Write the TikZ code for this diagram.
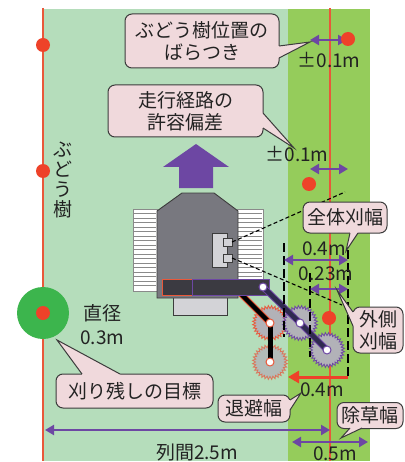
\documentclass[tikz,border=0pt]{standalone}
\usepackage{fontspec}
\setmainfont{Noto Sans CJK JP}
\usetikzlibrary{arrows.meta,calc}

\definecolor{rowgreen}{HTML}{B5DDBB}
\definecolor{weedgreen}{HTML}{95CC5B}
\definecolor{vinered}{HTML}{EE4229}
\definecolor{linered}{HTML}{E9583A}
\definecolor{purp}{HTML}{6D47A3}
\definecolor{tipfill}{HTML}{F0D9DC}
\definecolor{tipline}{HTML}{3C3C3C}
\definecolor{treegreen}{HTML}{3CB54D}
\definecolor{bodygray}{HTML}{78787F}
\definecolor{partgray}{HTML}{D3D3D7}
\definecolor{bladegray}{HTML}{B2B2B8}
\definecolor{bardark}{HTML}{3B3A41}
\definecolor{armnavy}{HTML}{2F2A4F}
\definecolor{inkdark}{HTML}{222222}
\definecolor{stripegray}{HTML}{8A8A8A}

\newcommand\bubbletail[5]{%
  \fill[tipfill] #1 -- #2 -- #3 -- #4 -- #5 -- cycle;
  \draw[tailedge] #2 -- #3 -- #4;}

\tikzset{
  txt/.style={font=\fontsize{19}{22}\selectfont, text=inkdark, inner sep=0pt},
  bubble/.style={draw=tipline, line width=1pt, fill=tipfill, rounded corners=7pt,
    align=center, inner sep=1pt, font=\fontsize{19}{22}\selectfont, text=inkdark},
  tailedge/.style={draw=tipline, line width=1pt, line join=miter},
  dimline/.style={draw=purp, line width=2.4pt,
    {Triangle[length=9pt,width=10pt]}-{Triangle[length=9pt,width=10pt]}},
  pullback/.style={draw=vinered, line width=3pt, -{Triangle[length=11pt,width=12pt]}},
  rowline/.style={draw=linered, line width=1.3pt},
  vinedot/.style={circle, fill=vinered, minimum size=14pt, inner sep=0pt},
  guide/.style={draw=black, line width=1.2pt, dash pattern=on 9pt off 4pt},
  sight/.style={draw=black, line width=1.1pt, dash pattern=on 4pt off 2.5pt},
  joint/.style={circle, fill=white, line width=1pt, minimum size=8pt, inner sep=0pt},
  track/.style={fill=white, draw=stripegray, line width=0.8pt},
  pics/sawblade/.style={code={
    \draw[draw=#1, fill=bladegray, line width=0.8pt, line join=miter]
      (0:14.5) \foreach \k in {1,...,63}{ -- ({\k*5.625}:{14.5+3*mod(\k,2)}) } -- cycle;
  }},
}

\begin{document}
\begin{tikzpicture}[x=1pt,y=-1pt]
\useasboundingbox (0,0) rectangle (404,462);

% field: inter-row grass and the weeding strip along the vine row
\fill[rowgreen] (43,9) rectangle (289,461);
\fill[weedgreen] (288,9) rectangle (370,461);

% vine rows
\coordinate (rowLtop) at (43,8);   \coordinate (rowLbot) at (43,461);
\coordinate (rowRtop) at (330,8);  \coordinate (rowRbot) at (330,461);
\draw[rowline] (rowLtop) -- (rowLbot);
\draw[rowline] (rowRtop) -- (rowRbot);

% target uncut zone around the trunk
\fill[treegreen] (43,313) circle (26);

% spread of trunk position
\coordinate (spA) at (310,40); \coordinate (spB) at (347,40);
\draw[dimline] (spA) -- (spB);

% vines
\node[vinedot] (v1) at (43,45) {};
\node[vinedot] (v2) at (43,171) {};
\node[vinedot] (v3) at (43,313) {};
\node[vinedot] (v4) at (348,39) {};
\node[vinedot] (v5) at (309,184) {};
\node[vinedot] (v6) at (329,318) {};

% path tolerance
\coordinate (ptA) at (310,169); \coordinate (ptB) at (348,169);
\draw[dimline] (ptA) -- (ptB);

% travel direction
\fill[purp] (196,144) -- (229,167) -- (213,167) -- (213,188) -- (179,188) -- (179,167) -- (163,167) -- cycle;

% crawler tracks
\draw[track] (133,209) rectangle (157,291);
\foreach \yy in {213.5,218,...,289} \draw[stripegray, line width=1pt] (134,\yy) -- (156,\yy);
\draw[track] (237,209) rectangle (263,291);
\foreach \yy in {213.5,218,...,289} \draw[stripegray, line width=1pt] (238,\yy) -- (262,\yy);

% chassis
\draw[fill=partgray, draw=tipline, line width=0.9pt] (173,297) rectangle (227,315);
\draw[fill=bodygray, draw=tipline, line width=0.9pt]
  (182,193) -- (214,193) -- (238,211) -- (238,298) -- (157,298) -- (157,211) -- cycle;

% sensor
\draw[fill=partgray, draw=tipline, line width=0.9pt] (212,233) rectangle (227,267);
\draw[fill=partgray, draw=tipline, line width=0.9pt] (223,238) rectangle (232,246);
\draw[fill=partgray, draw=tipline, line width=0.9pt] (223,254) rectangle (232,262);
\coordinate (sensU) at (232,242); \coordinate (sensL) at (232,258);

% mower arms and blades
\coordinate (j0) at (263,287);
\coordinate (j1) at (300,323);
\coordinate (j2) at (327,350);
\coordinate (r0) at (236,289);
\coordinate (r1) at (270,323);
\coordinate (r2) at (270,362);

\pic[opacity=0.75] at (r2) {sawblade=linered};
\pic at (r1) {sawblade=linered};
\pic at (j1) {sawblade=purp};
\pic at (j2) {sawblade=purp};

\draw[linered, line width=6.5pt] (r0) -- (r1);
\draw[black, line width=4.5pt] (r0) -- (r1);
\draw[black, line width=5pt] (r1) -- (r2);

% tool bar
\draw[fill=bardark, draw=linered, line width=0.9pt] (162,279) rectangle (192,295);
\draw[fill=bardark, draw=purp, line width=0.9pt] (192,279) rectangle (269,295);

\draw[purp, line width=6.5pt, line join=round] (j0) -- (j1) -- (j2);
\draw[armnavy, line width=4.5pt, line join=round] (j0) -- (j1) -- (j2);

\node[joint, draw=purp] (n0) at (j0) {};
\node[joint, draw=purp] (n1) at (j1) {};
\node[joint, draw=purp] (n2) at (j2) {};
\node[joint, draw=linered] (m1) at (r1) {};
\node[joint, draw=linered] (m2) at (r2) {};

% width guides
\coordinate (gAt) at (284,243); \coordinate (gAb) at (284,337);
\coordinate (gBt) at (310,273); \coordinate (gBb) at (310,357);
\coordinate (gCt) at (348,250); \coordinate (gCb) at (348,378);
\draw[guide] (gAt) -- (gAb);
\draw[guide] (gBt) -- (gBb);
\draw[guide] (gCt) -- (gCb);

\coordinate (sightU) at (345,192); \coordinate (sightL) at (342,305);
\draw[sight] (sensU) -- (sightU);
\draw[sight] (sensL) -- (sightL);

% dimensions
\coordinate (wA) at (284,260); \coordinate (wB) at (348,260);
\draw[dimline] (wA) -- (wB);
\coordinate (oA) at (310,289); \coordinate (oB) at (348,289);
\draw[dimline] (oA) -- (oB);
\coordinate (bA) at (348,377); \coordinate (bB) at (288,377);
\draw[pullback] (bA) -- (bB);
\coordinate (sA) at (45,430); \coordinate (sB) at (330,430);
\draw[dimline] (sA) -- (sB);
\coordinate (eA) at (292,442); \coordinate (eB) at (368,442);
\draw[dimline] (eA) -- (eB);

% labels
\node[txt] (pm1) at (329,60) {±0.1m};
\node[txt] (pm2) at (297,154) {±0.1m};
\node[txt] (w04) at (324,249) {0.4m};
\node[txt] (w023) at (326,274) {0.23m};
\node[txt] (r04) at (322,390) {0.4m};
\node[txt] (w05) at (335,454) {0.5m};
\node[txt] (rowsp) at (197,452) {列間2.5m};
\node[txt, anchor=west] (dia) at (83,313) {直径};
\node[txt, anchor=west] (dia2) at (80,338) {0.3m};
\node[txt, align=center, font=\fontsize{19}{20}\selectfont] (vine) at (63,180) {ぶ\\ど\\う\\樹};

% callouts
\node[bubble, minimum width=154pt, minimum height=54pt] (c1) at (202,41) {ぶどう樹位置の\\ばらつき};
\bubbletail{(274,46)}{(279,46)}{(310,42)}{(279,58)}{(274,58)}

\node[bubble, minimum width=155pt, minimum height=52pt] (c2) at (185.5,111) {走行経路の\\許容偏差};
\bubbletail{(258,113)}{(263,113)}{(294,148)}{(263,128)}{(258,128)}

\node[bubble, minimum width=84pt, minimum height=31pt] (c3) at (345,217.5) {全体刈幅};
\bubbletail{(350,229)}{(350,233)}{(346,251)}{(358,233)}{(358,229)}

\node[bubble, minimum width=50pt, minimum height=46pt] (c4) at (378,330) {外側\\刈幅};
\bubbletail{(358,312)}{(353,312)}{(337,290)}{(353,326)}{(358,326)}

\node[bubble, minimum width=66pt, minimum height=26pt] (c5) at (370,415.5) {除草幅};
\bubbletail{(350,424)}{(350,428)}{(341,438)}{(362,428)}{(362,424)}

\node[bubble, minimum width=72pt, minimum height=27pt] (c6) at (254,408.5) {退避幅};
\bubbletail{(286,400)}{(290,400)}{(301,393)}{(290,410)}{(286,410)}

\node[bubble, minimum width=157pt, minimum height=34pt] (c7) at (134.5,391) {刈り残しの目標};
\bubbletail{(82,378)}{(82,374)}{(57,340)}{(120,374)}{(120,378)}

\end{tikzpicture}
\end{document}
